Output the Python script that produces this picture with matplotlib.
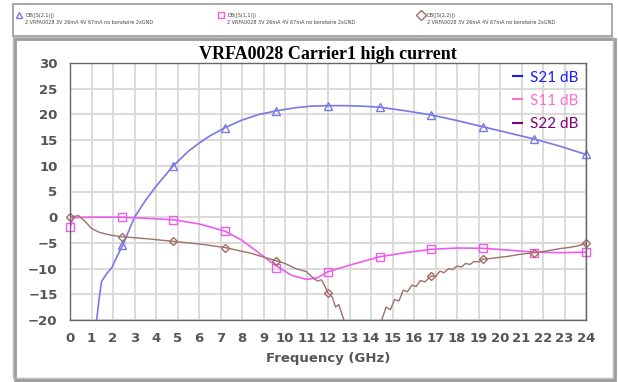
import numpy as np
import matplotlib.pyplot as plt
from matplotlib.lines import Line2D
from matplotlib.patches import Rectangle

# S21 (dB) - curva
s21_f = [1.24, 1.35, 1.47, 1.7, 1.95, 2.2, 2.45, 2.7, 3.0, 3.5, 4.0, 4.8, 5.5, 6.0, 6.5,
         7.2, 8.0, 8.8, 9.6, 10.5, 11.2, 12.0, 12.8, 13.6, 14.4, 15.6, 16.8, 18.0,
         19.2, 20.4, 21.6, 22.8, 24.0]
s21_db = [-20, -16, -12.5, -11, -9.8, -7.5, -5.5, -3, 0, 3.2, 6.0, 10, 12.8, 14.4, 15.8,
          17.4, 18.9, 20.0, 20.7, 21.3, 21.6, 21.7, 21.7, 21.6, 21.4, 20.7, 19.9, 18.8,
          17.6, 16.4, 15.2, 13.8, 12.2]

# S11 (dB)
s11_f = [0, 0.15, 1.0, 2.4, 3.5, 4.8, 6.0, 7.2, 8.0, 8.8, 9.6, 10.3, 11.0, 11.5, 12.0,
         13.2, 14.4, 15.6, 16.8, 18.0, 19.2, 20.4, 21.6, 22.8, 24.0]
s11_db = [-2, -0.1, 0, 0, -0.2, -0.5, -1.3, -2.7, -4.5, -7, -9.5, -11.3, -12.1, -11.8, -10.6,
          -9.1, -7.7, -6.9, -6.25, -6.0, -6.05, -6.4, -6.8, -6.9, -6.8]

# S22 (dB) - com ondulacoes
s22_f = [0, 0.4, 0.7, 1.0, 1.4, 1.9, 2.4, 3.6, 4.8, 6.0, 7.2, 8.4, 9.2, 9.6, 10.0, 10.5,
         11.0, 11.3, 11.5, 11.7, 11.9, 12.0, 12.2, 12.35, 12.5, 12.7, 12.9,
         14.3, 14.5, 14.7, 14.9, 15.1, 15.3, 15.5, 15.7, 15.9, 16.1, 16.3, 16.5, 16.8,
         17.0, 17.2, 17.4, 17.6, 17.8, 18.0, 18.2, 18.4, 18.6, 18.8, 19.0, 19.2, 19.6,
         20.0, 20.4, 20.8, 21.2, 21.6, 22.0, 22.4, 22.8, 23.2, 23.6, 24.0]
s22_db = [0, 0.3, -0.8, -2.2, -3.0, -3.5, -3.8, -4.2, -4.7, -5.2, -5.9, -7.0, -8.0, -8.5, -9.0, -10.0,
          -10.6, -11.8, -12.4, -12.2, -13.8, -14.8, -15.5, -17.5, -17.0, -19.5, -22,
          -22, -20, -17.5, -18.0, -16.0, -16.3, -14.2, -14.5, -13.2, -13.5, -12.3, -12.6, -11.4,
          -11.6, -10.5, -10.8, -10.0, -10.2, -9.5, -9.7, -9.0, -9.2, -8.6, -8.7, -8.2, -8.0,
          -7.8, -7.6, -7.3, -7.1, -6.9, -6.7, -6.4, -6.1, -5.9, -5.6, -5.1]

# marcadores a cada 2.4 GHz
mk_f = [0, 2.4, 4.8, 7.2, 9.6, 12.0, 14.4, 16.8, 19.2, 21.6, 24.0]
s21_mk = [None, -5.5, 10, 17.4, 20.7, 21.7, 21.4, 19.9, 17.6, 15.2, 12.2]
s11_mk = [-2, 0, -0.5, -2.7, -9.8, -10.6, -7.7, -6.25, -6.05, -6.9, -6.8]
s22_mk = [0, -3.8, -4.7, -5.9, -8.5, -14.8, None, -11.4, -8.2, -6.9, -5.1]

nomes = ['S21 dB', 'S11 dB', 'S22 dB']
cores_leg = ['#1a1aff', '#ff70c8', '#800080']
topo_leg = ['DB(|S(2,1)|)', 'DB(|S(1,1)|)', 'DB(|S(2,2)|)']
topo_sub = '2 VRFA0028 3V 26mA 4V 67mA no bondwire 2xGND'

c21 = '#7878e6'
c11 = '#ee5cee'
c22 = '#a07068'

fig = plt.figure(figsize=(6.18, 3.82), dpi=100)
ax = fig.add_axes([70/618, 1-320/382, 516/618, 257/382])

ax.plot(s21_f, s21_db, color=c21, lw=1.2)
ax.plot(s11_f, s11_db, color=c11, lw=1.2)
ax.plot(s22_f, s22_db, color=c22, lw=1.0)

def marcar(vals, mk, cor, tam):
    xs = [f for f, v in zip(mk_f, vals) if v is not None]
    ys = [v for v in vals if v is not None]
    ax.plot(xs, ys, ls='none', marker=mk, ms=tam, mfc='none', mec=cor, mew=1.0, clip_on=False)

marcar(s21_mk, '^', c21, 6)
marcar(s11_mk, 's', c11, 6)
marcar(s22_mk, 'D', c22, 4.5)

ax.set_xlim(0, 24)
ax.set_ylim(-20, 30)
ax.set_xticks(range(0, 25))
ax.set_yticks(range(-20, 31, 5))
ax.grid(True, color='#d8d8d8', lw=1.3)
ax.set_axisbelow(True)
for s in ax.spines.values():
    s.set_color('#666666')
    s.set_linewidth(1.0)
ax.tick_params(length=0, labelsize=9.5, labelcolor='#555555', pad=9)
for t in ax.get_xticklabels() + ax.get_yticklabels():
    t.set_fontweight('bold')
ax.set_xlabel('Frequency (GHz)', fontsize=9.5, color='#555555', fontweight='bold', labelpad=5)
ax.set_title('VRFA0028 Carrier1 high current', fontsize=13, fontweight='bold',
             family='Liberation Serif', pad=3)

handles = [Line2D([0], [0], color=c, lw=1.5) for c in cores_leg]
leg = ax.legend(handles, nomes, loc='upper right', frameon=False,
                handlelength=0.6, handletextpad=0.5, labelspacing=0.6,
                borderaxespad=0.1, prop={'family': 'Lato', 'size': 11})
for t, c in zip(leg.get_texts(), cores_leg):
    t.set_color(c)

# moldura do grafico e legenda de cima
fig.patches.append(Rectangle((15/618, 1-380/382), 600/618, 341/382, transform=fig.transFigure,
                             fill=False, ec='#999999', lw=2.0))
fig.patches.append(Rectangle((13/618, 1-378/382), 600/618, 341/382, transform=fig.transFigure,
                             fill=False, ec='#bbbbbb', lw=1.0))
fig.patches.append(Rectangle((13/618, 1-36/382), 599/618, 32/382, transform=fig.transFigure,
                             fill=False, ec='#999999', lw=1.2))

xs_leg = [16, 218, 418]
mks = ['^', 's', 'D']
cs = [c21, c11, c22]
for x0, m, c, nome in zip(xs_leg, mks, cs, topo_leg):
    fig.lines.append(Line2D([(x0+3)/618], [1-15/382], transform=fig.transFigure, marker=m,
                            ms=5, mfc='none', mec=c, ls='none'))
    fig.text((x0+9)/618, 1-15/382, nome, fontsize=3.5, color='#444444', va='center')
    fig.text((x0+9)/618, 1-23/382, topo_sub, fontsize=3.5, color='#444444', va='center')

fig.savefig('out.png', dpi=100)
